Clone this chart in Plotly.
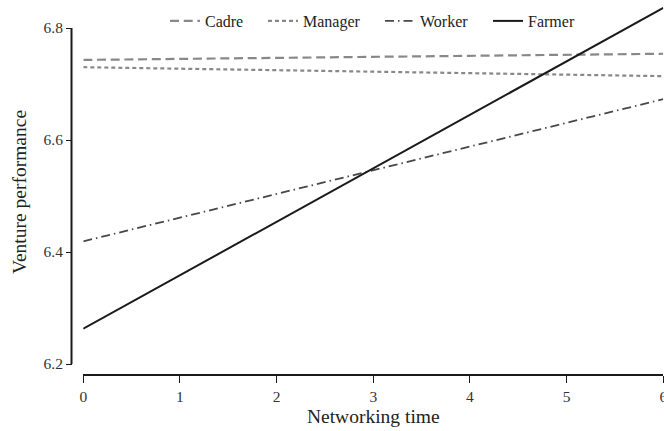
import plotly.graph_objects as go

x_vals = [0, 6]
series_names = ["Cadre", "Manager", "Worker", "Farmer"]
cadre = [6.743, 6.754]
manager = [6.730, 6.714]
worker = [6.419, 6.673]
farmer = [6.263, 6.836]
x_ticks = [0, 1, 2, 3, 4, 5, 6]
y_ticks = [6.2, 6.4, 6.6, 6.8]
x_title = "Networking time"
y_title = "Venture performance"

styles = {
    "Cadre": dict(color="#888888", dash="9px,4.7px", width=2.2),
    "Manager": dict(color="#888888", dash="4px,3px", width=2.2),
    "Worker": dict(color="#484848", dash="9px,4px,1.5px,4px", width=1.8),
    "Farmer": dict(color="#1a1a1a", dash="solid", width=2),
}
values = {"Cadre": cadre, "Manager": manager, "Worker": worker, "Farmer": farmer}
legend_ids = ["legend", "legend2", "legend3", "legend4"]
legend_x = [170, 268, 385, 493]  # left pixel of each legend entry

W, H = 664, 431
ML, MR, MT, MB = 72, 0, 5, 56
PW = W - ML - MR
PH = H - MT - MB
PX_PER_UNIT = 560.0           # vertical pixels per y unit
Y_BOTTOM_PX = 364             # pixel row of the lowest y tick
y_lo = y_ticks[0]
y_hi = y_ticks[-1] + (28 - MT) / PX_PER_UNIT

fig = go.Figure()
for name, lid in zip(series_names, legend_ids):
    fig.add_trace(go.Scatter(x=x_vals, y=values[name], mode="lines", name=name,
                             line=styles[name], legend=lid))

leg_font = dict(family="Liberation Serif", size=16, color="#222222")
legends = {}
for lid, px in zip(legend_ids, legend_x):
    legends[lid] = dict(orientation="h", x=(px - ML - 5) / PW, xanchor="left",
                        y=1 - (21 - MT) / PH, yanchor="middle",
                        font=leg_font, itemwidth=30, bgcolor="rgba(0,0,0,0)",
                        borderwidth=0)

fig.update_layout(
    width=W, height=H,
    margin=dict(l=ML, r=MR, t=MT, b=MB, autoexpand=False),
    paper_bgcolor="white", plot_bgcolor="white",
    font=dict(family="Liberation Serif", size=15, color="#333333"),
    showlegend=True,
    xaxis=dict(domain=[(83.3 - ML) / PW, (663.3 - ML) / PW], range=[0, 6], tickvals=x_ticks,
               anchor="free", position=0, automargin=False,
               showline=True, linecolor="#1a1a1a", linewidth=2,
               ticks="outside", ticklen=7, tickwidth=1, tickcolor="#1a1a1a",
               showgrid=False, zeroline=False, ticklabeloverflow="allow",
               tickfont=dict(family="Liberation Serif", size=15.5, color="#333333"),
               title=dict(text=x_title, standoff=5,
                          font=dict(family="Liberation Serif", size=19.5, color="#222222"))),
    yaxis=dict(domain=[(H - MB - Y_BOTTOM_PX) / PH, 1], range=[y_lo, y_hi], tickvals=y_ticks,
               tickformat=".1f",
               anchor="free", position=0, automargin=False,
               showline=False,
               ticks="outside", ticklen=6, tickwidth=1, tickcolor="#1a1a1a",
               showgrid=False, zeroline=False,
               tickfont=dict(family="Liberation Serif", size=15.5, color="#333333")),
    annotations=[dict(text=y_title, textangle=-90, showarrow=False,
                      xref="paper", yref="paper",
                      x=(20 - ML) / PW, y=(H - MB - 192) / PH,
                      xanchor="center", yanchor="middle",
                      font=dict(family="Liberation Serif", size=19.5, color="#222222"))],
    shapes=[dict(type="line", xref="paper", yref="y", x0=-0.5 / PW, x1=-0.5 / PW,
                 y0=y_ticks[0] - 0.002, y1=y_ticks[-1],
                 line=dict(color="#1a1a1a", width=2), layer="above")],
    **legends,
)
fig.write_html("out.html", post_script="document.body.style.margin='0';",
               config={"displayModeBar": False})
